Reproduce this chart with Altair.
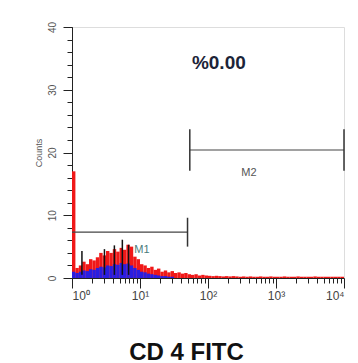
import altair as alt
import pandas as pd

# log10 bin starts, width 0.05
bin_w = 0.05
red_counts = [17, 1.6, 2.0, 2.6, 2.2, 3.0, 2.8, 3.3, 4.0, 3.6,
              4.3, 4.0, 4.6, 4.2, 4.8, 4.5, 5.3, 5.0, 3.4, 3.0,
              2.2, 2.0, 1.6, 1.8, 1.3, 1.5, 1.0, 1.2, 0.9, 1.1,
              0.8, 0.9, 0.7, 0.8, 0.6, 0.5, 0.6, 0.4, 0.5, 0.4,
              0.35, 0.3, 0.35, 0.3, 0.25, 0.3, 0.25, 0.3, 0.25, 0.2,
              0.25, 0.2, 0.25, 0.2, 0.2, 0.25, 0.2, 0.2, 0.25, 0.2,
              0.2, 0.2, 0.25, 0.2, 0.2, 0.2, 0.25, 0.2, 0.2, 0.2,
              0.2, 0.25, 0.2, 0.2, 0.2, 0.2, 0.2, 0.2, 0.2, 0.2]
blue_counts = [1.0, 0.8, 1.0, 1.2, 1.1, 1.4, 1.3, 1.6, 1.8, 1.7,
               2.0, 1.9, 2.2, 2.1, 2.4, 2.2, 2.3, 2.0, 1.6, 1.3,
               1.0, 0.9, 0.7, 0.6, 0.5, 0.4, 0.3, 0.3, 0.2, 0.2]
spike_x = [1.4, 3.0, 4.2, 5.5, 6.8]
spike_y = [4.3, 4.6, 5.2, 6.1, 5.3]

m1_range = [1.0, 50.0]
m1_level = 7.3
m2_range = [54.0, 10000.0]
m2_level = 20.4
percent_text = "%0.00"

x_major = [1, 10, 100, 1000, 10000]
x_minor = [m * 10 ** d for d in range(4) for m in range(2, 10)]
y_major = [0, 10, 20, 30, 40]
y_minor = list(range(0, 41, 2))

red_df = pd.DataFrame({
    "x": [10 ** (i * bin_w) for i in range(len(red_counts))],
    "x2": [10 ** ((i + 1) * bin_w) for i in range(len(red_counts))],
    "y": red_counts,
})
blue_df = pd.DataFrame({
    "x": [10 ** (i * bin_w) for i in range(len(blue_counts))],
    "x2": [10 ** ((i + 1) * bin_w) for i in range(len(blue_counts))],
    "y": blue_counts,
})
spike_df = pd.DataFrame({"x": spike_x, "y": spike_y})

xscale = alt.Scale(type="log", domain=[1, 10000], nice=False)
yscale = alt.Scale(domain=[0, 40], nice=False)

label_expr = ("datum.value == 1 ? '10⁰' : datum.value == 10 ? '10¹' : datum.value == 100 ? '10²' : "
              "datum.value == 1000 ? '10³' : '10⁴'")

font = "Liberation Sans"

red = alt.Chart(red_df).mark_rect(color="#f01818").encode(
    x=alt.X("x:Q", scale=xscale,
            axis=alt.Axis(values=x_major, labelExpr=label_expr, tickSize=10, tickColor="#222",
                          domainColor="#222", labelFont=font, labelFontSize=12, labelColor="#444",
                          labelPadding=2, grid=False, orient="bottom",
                          title="CD 4 FITC", titleFont=font, titleFontSize=24,
                          titleFontWeight="bold", titleColor="#111",
                          titleX=114, titleY=81, titleAlign="center", titleBaseline="alphabetic")),
    x2="x2:Q",
    y=alt.Y("y:Q", scale=yscale,
            axis=alt.Axis(values=y_major, tickSize=9, tickColor="#222", domainColor="#222",
                          labelAngle=-90, labelAlign="center", labelBaseline="bottom",
                          labelFont=font, labelFontSize=10, labelColor="#555", labelPadding=6,
                          grid=False, orient="left", title="Counts", titleFont=font, titleFontSize=9,
                          titleFontWeight="normal", titleColor="#555", titlePadding=4)),
    y2=alt.datum(0),
)

minor_x = alt.Chart(pd.DataFrame({"x": [1]})).mark_point(opacity=0).encode(
    x=alt.X("x:Q", scale=xscale,
            axis=alt.Axis(values=x_minor, labels=False, tickSize=5, tickColor="#222",
                          domain=False, grid=False, title=None, orient="bottom")),
)
minor_y = alt.Chart(pd.DataFrame({"y": [0]})).mark_point(opacity=0).encode(
    y=alt.Y("y:Q", scale=yscale,
            axis=alt.Axis(values=y_minor, labels=False, tickSize=5, tickColor="#222",
                          domain=False, grid=False, title=None, orient="left")),
)

blue = alt.Chart(blue_df).mark_rect(color="#2a1ee0").encode(
    x=alt.X("x:Q", scale=xscale, axis=None), x2="x2:Q",
    y=alt.Y("y:Q", scale=yscale, axis=None), y2=alt.datum(0),
)

spikes = alt.Chart(spike_df).mark_rule(color="#111", strokeWidth=1.5).encode(
    x=alt.X("x:Q", scale=xscale, axis=None),
    y=alt.Y("y:Q", scale=yscale, axis=None), y2=alt.datum(0.5),
)

markers_df = pd.DataFrame({
    "x": [m1_range[0], m2_range[0]], "x2": [m1_range[1], m2_range[1]],
    "y": [m1_level, m2_level],
})
m_lines = alt.Chart(markers_df).mark_rule(color="#444", strokeWidth=1.2).encode(
    x=alt.X("x:Q", scale=xscale, axis=None), x2="x2:Q",
    y=alt.Y("y:Q", scale=yscale, axis=None)
)
ticks_df = pd.DataFrame({
    "x": [m1_range[1], m2_range[0], m2_range[1]],
    "y": [m1_level - 2.3, m2_level - 3.3, m2_level - 3.3],
    "y2": [m1_level + 2.3, m2_level + 3.3, m2_level + 3.3],
})
m_ticks = alt.Chart(ticks_df).mark_rule(color="#333", strokeWidth=1.5).encode(
    x=alt.X("x:Q", scale=xscale, axis=None),
    y=alt.Y("y:Q", scale=yscale, axis=None), y2="y2:Q"
)

labels_df = pd.DataFrame({"x": [10.7, 400.0], "y": [4.5, 16.7], "t": ["M1", "M2"],
                          "c": ["#4b7b7b", "#555"]})
m_labels = alt.Chart(labels_df).mark_text(font=font, fontSize=11, align="center").encode(
    x=alt.X("x:Q", scale=xscale, axis=None),
    y=alt.Y("y:Q", scale=yscale, axis=None), text="t:N",
    color=alt.Color("c:N", scale=None)
)

pct = alt.Chart(pd.DataFrame({"x": [58.0], "y": [34.3], "t": [percent_text]})).mark_text(
    font=font, fontSize=19, fontWeight="bold", align="left", color="#1c2438"
).encode(x=alt.X("x:Q", scale=xscale, axis=None),
         y=alt.Y("y:Q", scale=yscale, axis=None), text="t:N")

chart = alt.layer(red, minor_x, minor_y, blue, spikes, m_lines, m_ticks, m_labels, pct).resolve_axis(
    x="independent", y="independent"
).properties(
    width=272, height=251,
    autosize=alt.AutoSizeParams(type="none"),
    padding={"left": 72, "top": 27, "right": 14, "bottom": 85},
).configure_view(
    stroke="#555", strokeWidth=1.5
).configure(background="white")

chart.save("out.html", embed_options={"renderer": "svg", "actions": False})
